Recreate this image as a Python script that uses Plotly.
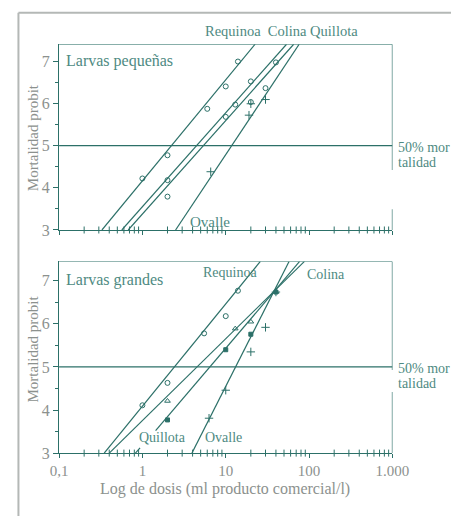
import plotly.graph_objects as go

# ---------------- data ----------------
x_tick_vals = [0.1, 1, 10, 100, 1000]
x_tick_text = ["0,1", "1", "10", "100", "1.000"]
x_minor_vals = [d * 10.0 ** e for e in range(-1, 3) for d in range(2, 10)]
y_tick_vals = [3, 4, 5, 6, 7]
ref_probit = 5  # 50% mortalidad

# Larvas pequeñas (observed points)
req_s_dose = [1, 2, 6, 10, 14]
req_s_probit = [4.22, 4.77, 5.87, 6.40, 6.99]
col_s_dose = [2, 10, 20, 40]
col_s_probit = [4.18, 5.68, 6.52, 6.97]
qui_s_dose = [2, 13, 20, 30]
qui_s_probit = [3.79, 5.97, 6.03, 6.36]
ova_s_dose = [6.6, 19, 20, 30]
ova_s_probit = [4.38, 5.72, 5.99, 6.09]

# Larvas pequeñas (fitted probit lines)
req_s_line_dose = [0.327, 22.5]
req_s_line_probit = [3, 7.4]
col_s_line_dose = [0.566, 53.6]
col_s_line_probit = [3, 7.4]
qui_s_line_dose = [0.676, 65.3]
qui_s_line_probit = [3, 7.4]
ova_s_line_dose = [2.5, 76]
ova_s_line_probit = [3, 7.4]

# Larvas grandes (observed points)
req_g_dose = [1, 2, 5.5, 10, 14]
req_g_probit = [4.11, 4.63, 5.78, 6.18, 6.77]
col_g_dose = [2, 13, 20, 40]
col_g_probit = [4.21, 5.89, 6.05, 6.74]
qui_g_dose = [2, 10, 20, 40]
qui_g_probit = [3.77, 5.40, 5.76, 6.74]
ova_g_dose = [6.3, 10, 20, 30, 40]
ova_g_probit = [3.81, 4.46, 5.35, 5.92, 6.74]

# Larvas grandes (fitted probit lines)
req_g_line_dose = [0.348, 26]
req_g_line_probit = [3, 7.45]
col_g_line_dose = [0.40, 88]
col_g_line_probit = [3, 7.45]
qui_g_line_dose = [0.824, 0.937, None, 1.44, 77]
qui_g_line_probit = [3, 3.12, None, 3.52, 7.45]
ova_g_line_dose = [3.93, 57.5]
ova_g_line_probit = [3, 7.45]

top_range = [3, 7.4]
bot_range = [3, 7.45]
x_min, x_max = 0.1, 1000

# ---------------- style ----------------
W, H = 468, 525
LINE = "#2c7068"
TEAL_TXT = "#4e8a82"
GRAY_TXT = "#8c918e"
FONT = "Liberation Serif, DejaVu Serif, serif"

fig = go.Figure()


def add_line(xs, ys, xa, ya, width=1.2):
    fig.add_trace(go.Scatter(x=xs, y=ys, mode="lines", xaxis=xa, yaxis=ya,
                             line=dict(color=LINE, width=width),
                             hoverinfo="skip", showlegend=False, cliponaxis=False,
                             connectgaps=False))


def add_pts(xs, ys, xa, ya, symbol, size=5, lw=1):
    fig.add_trace(go.Scatter(x=xs, y=ys, mode="markers", xaxis=xa, yaxis=ya,
                             marker=dict(symbol=symbol, size=size, color=LINE,
                                         line=dict(color=LINE, width=lw)),
                             hoverinfo="skip", showlegend=False, cliponaxis=False))


# top panel
for xs, ys in [(req_s_line_dose, req_s_line_probit), (col_s_line_dose, col_s_line_probit),
               (qui_s_line_dose, qui_s_line_probit), (ova_s_line_dose, ova_s_line_probit)]:
    add_line(xs, ys, "x", "y")
add_pts(req_s_dose, req_s_probit, "x", "y", "circle-open")
add_pts(col_s_dose, col_s_probit, "x", "y", "circle-open")
add_pts(qui_s_dose, qui_s_probit, "x", "y", "circle-open")
add_pts(ova_s_dose, ova_s_probit, "x", "y", "cross-thin-open", 6)

# bottom panel
for xs, ys in [(req_g_line_dose, req_g_line_probit), (col_g_line_dose, col_g_line_probit),
               (qui_g_line_dose, qui_g_line_probit), (ova_g_line_dose, ova_g_line_probit)]:
    add_line(xs, ys, "x2", "y2")
add_pts(req_g_dose, req_g_probit, "x2", "y2", "circle-open")
add_pts(col_g_dose, col_g_probit, "x2", "y2", "triangle-up-open")
add_pts(qui_g_dose, qui_g_probit, "x2", "y2", "square", 4)
add_pts(ova_g_dose, ova_g_probit, "x2", "y2", "cross-thin-open", 6)

# 50% mortality reference lines, top edges and broken right edges
add_line([x_min, x_max], [ref_probit, ref_probit], "x", "y")
add_line([x_min, x_max], [ref_probit, ref_probit], "x2", "y2")
add_line([x_min, x_max], [top_range[1], top_range[1]], "x", "y")
add_line([x_min, x_max], [bot_range[1], bot_range[1]], "x2", "y2")
add_line([x_max, x_max, None, x_max, x_max], [top_range[1], 4.42, None, 3.49, 3], "x", "y")
add_line([x_max, x_max, None, x_max, x_max], [bot_range[1], 4.93, None, 4.42, 3], "x2", "y2")

# minor log ticks on the dose axes (crossing the axis line)
add_pts(x_minor_vals, [top_range[0]] * len(x_minor_vals), "x", "y", "line-ns-open", 5, 1)
add_pts(x_minor_vals, [bot_range[0]] * len(x_minor_vals), "x2", "y2", "line-ns-open", 5, 1)

xax = dict(type="log", range=[-1, 3], domain=[53 / W, 406 / W],
           showline=True, linecolor=LINE, linewidth=1.3,
           ticks="outside", ticklen=4, tickcolor=LINE, tickwidth=1,
           tickvals=x_tick_vals, ticktext=x_tick_text,
           showgrid=False, zeroline=False,
           tickfont=dict(family=FONT, size=15, color=GRAY_TXT))
yax = dict(showline=True, linecolor=LINE, linewidth=1.3,
           ticks="outside", ticklen=5, tickcolor=LINE, tickwidth=1,
           tickvals=y_tick_vals, showgrid=False, zeroline=False,
           tickfont=dict(family=FONT, size=16, color=GRAY_TXT),
           minor=dict(ticks="outside", ticklen=3, tickcolor=LINE, dtick=0.5, showgrid=False))

fig.update_layout(
    width=W, height=H, autosize=False,
    margin=dict(l=0, r=0, t=0, b=0),
    paper_bgcolor="white", plot_bgcolor="white",
    showlegend=False,
    xaxis=dict(xax, anchor="y", showticklabels=False),
    yaxis=dict(yax, anchor="x", range=top_range, domain=[1 - 234 / H, 1 - 45 / H]),
    xaxis2=dict(xax, anchor="y2", showticklabels=True),
    yaxis2=dict(yax, anchor="x2", range=bot_range, domain=[1 - 461 / H, 1 - 266 / H]),
)


def ann(text, xp, yp, color=TEAL_TXT, size=15, xanchor="left", angle=0):
    fig.add_annotation(text=text, x=xp / W, y=1 - yp / H, xref="paper", yref="paper",
                       xanchor=xanchor, yanchor="middle", showarrow=False, textangle=angle,
                       font=dict(family=FONT, size=size, color=color))


# top panel labels
ann("Requinoa&nbsp;&nbsp;Colina&nbsp;Quillota", 205, 32, size=14.5)
ann("Larvas pequeñas", 58, 62, size=16)
ann("Ovalle", 189, 226)
ann("50% mor", 410, 150, size=14)
ann("talidad", 410, 165, size=14)
ann("Mortalidad probit", 25, 140, color=GRAY_TXT, size=15, xanchor="center", angle=-90)

# bottom panel labels
ann("Larvas grandes", 58, 285, size=16)
ann("Requinoa", 203, 277, size=14)
ann("Colina", 313, 279, size=14)
ann("Quillota", 135, 445, size=14)
ann("Ovalle", 205, 445, size=14)
ann("50% mor", 410, 375, size=14)
ann("talidad", 410, 390, size=14)
ann("Mortalidad probit", 25, 355, color=GRAY_TXT, size=15, xanchor="center", angle=-90)
ann("Log de dosis (ml producto comercial/l)", 229, 498, color=GRAY_TXT, size=16, xanchor="center")

# outer frame (top and left)
fig.add_shape(type="line", xref="paper", yref="paper", x0=10 / W, x1=1, y0=1 - 13 / H, y1=1 - 13 / H,
              line=dict(color="#b4b8b6", width=2))
fig.add_shape(type="line", xref="paper", yref="paper", x0=10 / W, x1=10 / W, y0=0, y1=1 - 13 / H,
              line=dict(color="#b4b8b6", width=2))

fig.write_html("out.html", config={"displayModeBar": False},
               post_script="document.body.style.margin='0';")
